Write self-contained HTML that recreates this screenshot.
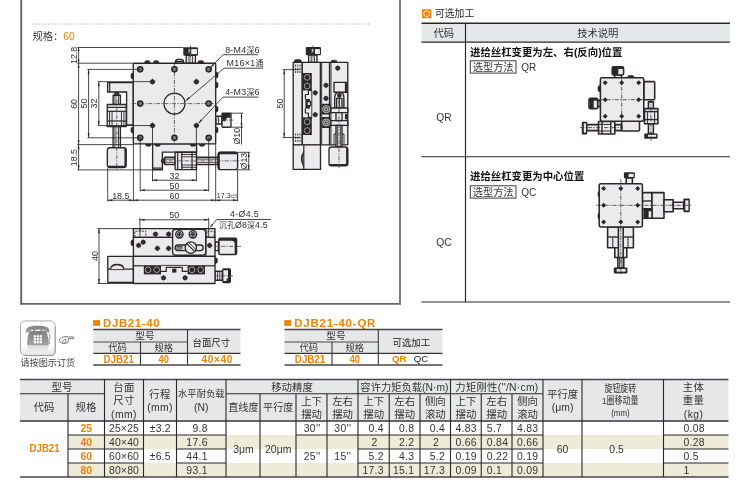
<!DOCTYPE html>
<html lang="zh-CN"><head><meta charset="utf-8"><title>DJB21</title>
<style>
html,body{margin:0;padding:0;background:#fff;}
body{width:748px;height:500px;overflow:hidden;position:relative;font-family:"Liberation Sans","Noto Sans CJK SC",sans-serif;}
svg{position:absolute;left:0;top:0;display:block;will-change:transform;}
svg text{font-family:"Liberation Sans","Noto Sans CJK SC",sans-serif;}
</style></head><body>
<svg width="748" height="500" viewBox="0 0 748 500">
<line x1="21.2" y1="0" x2="21.2" y2="304.6" stroke="#6b6465" stroke-width="1.9" />
<line x1="20.3" y1="303.9" x2="401" y2="303.9" stroke="#6b6465" stroke-width="1.6" />
<line x1="400" y1="0" x2="400" y2="304.6" stroke="#7a7374" stroke-width="1.9" />
<line x1="32" y1="24" x2="371" y2="24" stroke="#c6c6c6" stroke-width="1" stroke-dasharray="2 1.2"/>
<text x="32.5" y="39.51" font-size="10.3" text-anchor="start" fill="#383838" font-weight="normal" >规格：</text>
<text x="63.3" y="39.51" font-size="10.3" text-anchor="start" fill="#f08300" font-weight="normal" >60</text>
<rect x="422" y="9.3" width="9.3" height="8.9" fill="#f08300" />
<circle cx="426.6" cy="13.7" r="2.9" fill="none" stroke="#fff" stroke-width="0.9"/>
<text x="435" y="17.13" font-size="9.8" text-anchor="start" fill="#222" font-weight="normal" >可选加工</text>
<rect x="421.5" y="23.5" width="308.5" height="18.5" fill="#e6e7e8" />
<line x1="421.5" y1="23.3" x2="730" y2="23.3" stroke="#2b2728" stroke-width="1.4" />
<line x1="421.5" y1="42.1" x2="730" y2="42.1" stroke="#2b2728" stroke-width="1.4" />
<line x1="421.5" y1="156.8" x2="730" y2="156.8" stroke="#2b2728" stroke-width="1.1" />
<line x1="421.5" y1="302" x2="730" y2="302" stroke="#2b2728" stroke-width="1.2" />
<line x1="465.5" y1="23" x2="465.5" y2="302" stroke="#2b2728" stroke-width="1.2" />
<text x="443.7" y="36.71" font-size="10.3" text-anchor="middle" fill="#333" font-weight="normal" >代码</text>
<text x="597.8" y="36.71" font-size="10.3" text-anchor="middle" fill="#333" font-weight="normal" >技术说明</text>
<text x="443.9" y="121.21" font-size="10.3" text-anchor="middle" fill="#333" font-weight="normal" >QR</text>
<text x="443.9" y="245.71" font-size="10.3" text-anchor="middle" fill="#333" font-weight="normal" >QC</text>
<text x="470" y="55.74" font-size="10.4" text-anchor="start" fill="#111" font-weight="bold" >进给丝杠变更为左、右(反向)位置</text>
<text x="470" y="179.54" font-size="10.4" text-anchor="start" fill="#111" font-weight="bold" >进给丝杠变更为中心位置</text>
<rect x="470.3" y="60.8" width="45.7" height="12.3" fill="#fff" stroke="#2b2728" stroke-width="0.9"/>
<text x="493.2" y="70.57" font-size="10.2" text-anchor="middle" fill="#333" font-weight="normal" >选型方法</text>
<text x="521.3" y="70.5" font-size="10" text-anchor="start" fill="#333" font-weight="normal" >QR</text>
<rect x="470.3" y="185.8" width="45.7" height="12.3" fill="#fff" stroke="#2b2728" stroke-width="0.9"/>
<text x="493.2" y="195.57" font-size="10.2" text-anchor="middle" fill="#333" font-weight="normal" >选型方法</text>
<text x="521.3" y="195.5" font-size="10" text-anchor="start" fill="#333" font-weight="normal" >QC</text>
<defs><linearGradient id="pg" x1="0" y1="0" x2="0" y2="1"><stop offset="0" stop-color="#fff"/><stop offset="0.72" stop-color="#fff"/><stop offset="1" stop-color="#e2e2e2"/></linearGradient><linearGradient id="pr" x1="0" y1="0" x2="0" y2="1"><stop offset="0" stop-color="#c8c8c8" stop-opacity="0.75"/><stop offset="1" stop-color="#e4e4e4" stop-opacity="0"/></linearGradient><linearGradient id="ph" x1="0" y1="0" x2="0" y2="1"><stop offset="0" stop-color="#808080"/><stop offset="1" stop-color="#a2a2a2"/></linearGradient></defs>
<rect x="20.5" y="320.9" width="34.6" height="34.6" rx="4.6" fill="url(#pg)" stroke="#a8a8a8" stroke-width="1"/>
<path d="M55.3 326 v25 q0 4.6 -4.6 4.6 h-25" fill="none" stroke="#8f8f8f" stroke-width="0.7"/>
<path d="M25.8 332.6 C25.4 327 30 325.7 37.7 325.7 C45.4 325.7 50 327 49.6 332.6 L45.2 332.6 C45.2 330.3 44.2 329.7 42.2 329.7 L33.2 329.7 C31.2 329.7 30.2 330.3 30.2 332.6 Z" fill="url(#ph)"/>
<path d="M31 331 L44.6 331 C47.6 332.4 48.7 338 48.7 345.4 L27.2 345.4 C27.2 338 28 332.4 31 331 Z" fill="url(#ph)"/>
<rect x="33.2" y="328.6" width="2.2" height="2.4" fill="url(#ph)"/><rect x="40.4" y="328.6" width="2.2" height="2.4" fill="url(#ph)"/>
<rect x="33.8" y="335.2" width="2.2" height="2.2" fill="#fff"/>
<rect x="36.75" y="335.2" width="2.2" height="2.2" fill="#fff"/>
<rect x="39.699999999999996" y="335.2" width="2.2" height="2.2" fill="#fff"/>
<rect x="33.8" y="338.15" width="2.2" height="2.2" fill="#fff"/>
<rect x="36.75" y="338.15" width="2.2" height="2.2" fill="#fff"/>
<rect x="39.699999999999996" y="338.15" width="2.2" height="2.2" fill="#fff"/>
<rect x="33.8" y="341.09999999999997" width="2.2" height="2.2" fill="#fff"/>
<rect x="36.75" y="341.09999999999997" width="2.2" height="2.2" fill="#fff"/>
<rect x="39.699999999999996" y="341.09999999999997" width="2.2" height="2.2" fill="#fff"/>
<path d="M48.9 333.4 q2.2 2.6 0.6 5.4 q-1.4 2.4 0.2 5.2" fill="none" stroke="#8a8a8a" stroke-width="0.9"/>
<rect x="27.6" y="346.3" width="20.8" height="6.4" fill="url(#pr)"/>
<g fill="#fff" stroke="#4a4a4a" stroke-width="0.7" stroke-linejoin="round"><path d="M66 337 h7.2 q0.9 0 0.9 0.8 q0 0.8 -0.9 0.8 h-5.4"/><path d="M67.6 337 q-2.6 -0.9 -5 0.1 q-3.4 1.2 -3.3 3.3 q0.1 2.3 3.6 3 q3 0.5 4.6 -0.9 q1.6 -1.6 0.8 -3.9"/><path d="M64.2 343.2 q1.6 -0.6 1.8 -2.2 q0.2 -1.4 -1.2 -1.6 q-1.6 0 -2 1.8" fill="none"/><path d="M62.8 341.4 q-0.8 1.4 0.4 2" fill="none"/></g>
<text x="20.4" y="366.09" font-size="9.15" text-anchor="start" fill="#444" font-weight="normal" >请按图示订货</text>
<rect x="93.1" y="320.1" width="6.9" height="5.8" fill="#f08300" />
<text x="103.1" y="327.2" font-size="11.4" text-anchor="start" fill="#f08300" font-weight="bold" textLength="56.5" lengthAdjust="spacing">DJB21-40</text>
<rect x="93.3" y="329.5" width="147.2" height="23.5" fill="#e6e7e8" />
<line x1="93.3" y1="329.6" x2="240.5" y2="329.6" stroke="#4a4647" stroke-width="1.5" />
<line x1="93.3" y1="342" x2="187.5" y2="342" stroke="#4a4647" stroke-width="1.1" />
<line x1="93.3" y1="353.4" x2="240.5" y2="353.4" stroke="#3a3637" stroke-width="1.4" />
<line x1="93.3" y1="365" x2="240.5" y2="365" stroke="#4a4647" stroke-width="1.4" />
<line x1="140.5" y1="342" x2="140.5" y2="365" stroke="#3a3637" stroke-width="1.1" />
<line x1="187.5" y1="329" x2="187.5" y2="365" stroke="#3a3637" stroke-width="1.1" />
<text x="144.9" y="339.36" font-size="9.6" text-anchor="middle" fill="#333" font-weight="normal" >型号</text>
<text x="117.5" y="350.75" font-size="9.3" text-anchor="middle" fill="#333" font-weight="normal" >代码</text>
<text x="163.7" y="350.75" font-size="9.3" text-anchor="middle" fill="#333" font-weight="normal" >规格</text>
<text x="211.3" y="345.98" font-size="9.4" text-anchor="middle" fill="#222" font-weight="normal" >台面尺寸</text>
<text x="118.7" y="362.5" font-size="10" text-anchor="middle" fill="#f08300" font-weight="bold" textLength="30.4" lengthAdjust="spacingAndGlyphs">DJB21</text>
<text x="163.7" y="362.5" font-size="10" text-anchor="middle" fill="#f08300" font-weight="bold" textLength="10.4" lengthAdjust="spacingAndGlyphs">40</text>
<text x="216.9" y="362.5" font-size="10" text-anchor="middle" fill="#f08300" font-weight="bold" textLength="31" lengthAdjust="spacing">40×40</text>
<rect x="284.3" y="320.1" width="6.9" height="5.8" fill="#f08300" />
<text x="294.3" y="327.2" font-size="11.4" text-anchor="start" fill="#f08300" font-weight="bold" textLength="81" lengthAdjust="spacing">DJB21-40-QR</text>
<rect x="284.5" y="329.5" width="158.0" height="23.5" fill="#e6e7e8" />
<line x1="284.5" y1="329.6" x2="442.5" y2="329.6" stroke="#4a4647" stroke-width="1.5" />
<line x1="284.5" y1="342" x2="378.3" y2="342" stroke="#4a4647" stroke-width="1.1" />
<line x1="284.5" y1="353.4" x2="442.5" y2="353.4" stroke="#3a3637" stroke-width="1.4" />
<line x1="284.5" y1="365" x2="442.5" y2="365" stroke="#4a4647" stroke-width="1.4" />
<line x1="332" y1="342" x2="332" y2="365" stroke="#3a3637" stroke-width="1.1" />
<line x1="378.3" y1="329" x2="378.3" y2="365" stroke="#3a3637" stroke-width="1.1" />
<text x="335.9" y="339.36" font-size="9.6" text-anchor="middle" fill="#333" font-weight="normal" >型号</text>
<text x="308.85" y="350.75" font-size="9.3" text-anchor="middle" fill="#333" font-weight="normal" >代码</text>
<text x="354.84999999999997" y="350.75" font-size="9.3" text-anchor="middle" fill="#333" font-weight="normal" >规格</text>
<text x="411.3" y="345.98" font-size="9.4" text-anchor="middle" fill="#222" font-weight="normal" >可选加工</text>
<text x="310.05" y="362.5" font-size="10" text-anchor="middle" fill="#f08300" font-weight="bold" textLength="30.4" lengthAdjust="spacingAndGlyphs">DJB21</text>
<text x="354.84999999999997" y="362.5" font-size="10" text-anchor="middle" fill="#f08300" font-weight="bold" textLength="10.4" lengthAdjust="spacingAndGlyphs">40</text>
<text x="392" y="362.36" font-size="9.6" text-anchor="start" fill="#f08300" font-weight="bold" >QR</text>
<text x="413.8" y="362.36" font-size="9.6" text-anchor="start" fill="#222" font-weight="normal" >QC</text>
<rect x="20" y="380" width="708.5" height="41" fill="#e6e7e8" />
<rect x="68" y="435" width="660.5" height="14" fill="#eeebd9" />
<rect x="68" y="463" width="660.5" height="14" fill="#eeebd9" />
<line x1="20" y1="379.6" x2="728.5" y2="379.6" stroke="#4a4647" stroke-width="1.5" />
<line x1="20" y1="421" x2="728.5" y2="421" stroke="#3a3637" stroke-width="1.5" />
<line x1="20" y1="477" x2="728.5" y2="477" stroke="#4a4647" stroke-width="1.5" />
<line x1="20" y1="393.8" x2="104.5" y2="393.8" stroke="#2b2728" stroke-width="1.1" />
<line x1="226" y1="393.8" x2="543" y2="393.8" stroke="#2b2728" stroke-width="1.1" />
<line x1="68" y1="393.8" x2="68" y2="477" stroke="#2b2728" stroke-width="1.1" />
<line x1="104.5" y1="379.6" x2="104.5" y2="477" stroke="#2b2728" stroke-width="1.1" />
<line x1="143.5" y1="379.6" x2="143.5" y2="477" stroke="#2b2728" stroke-width="1.1" />
<line x1="176.5" y1="379.6" x2="176.5" y2="477" stroke="#2b2728" stroke-width="1.1" />
<line x1="226" y1="379.6" x2="226" y2="477" stroke="#2b2728" stroke-width="1.1" />
<line x1="260" y1="393.8" x2="260" y2="477" stroke="#2b2728" stroke-width="1.1" />
<line x1="296" y1="393.8" x2="296" y2="477" stroke="#2b2728" stroke-width="1.1" />
<line x1="327" y1="393.8" x2="327" y2="477" stroke="#2b2728" stroke-width="1.1" />
<line x1="358" y1="379.6" x2="358" y2="477" stroke="#2b2728" stroke-width="1.1" />
<line x1="389.25" y1="393.8" x2="389.25" y2="477" stroke="#2b2728" stroke-width="1.1" />
<line x1="420" y1="393.8" x2="420" y2="477" stroke="#2b2728" stroke-width="1.1" />
<line x1="450.5" y1="379.6" x2="450.5" y2="477" stroke="#2b2728" stroke-width="1.1" />
<line x1="481.25" y1="393.8" x2="481.25" y2="477" stroke="#2b2728" stroke-width="1.1" />
<line x1="512" y1="393.8" x2="512" y2="477" stroke="#2b2728" stroke-width="1.1" />
<line x1="543" y1="379.6" x2="543" y2="477" stroke="#2b2728" stroke-width="1.1" />
<line x1="582" y1="379.6" x2="582" y2="477" stroke="#2b2728" stroke-width="1.1" />
<line x1="663.5" y1="379.6" x2="663.5" y2="477" stroke="#2b2728" stroke-width="1.1" />
<line x1="68" y1="435" x2="143.5" y2="435" stroke="#2b2728" stroke-width="1.1" />
<line x1="176.5" y1="435" x2="226" y2="435" stroke="#2b2728" stroke-width="1.1" />
<line x1="358" y1="435" x2="543" y2="435" stroke="#2b2728" stroke-width="1.1" />
<line x1="663.5" y1="435" x2="728.5" y2="435" stroke="#2b2728" stroke-width="1.1" />
<line x1="68" y1="449" x2="143.5" y2="449" stroke="#2b2728" stroke-width="1.1" />
<line x1="176.5" y1="449" x2="226" y2="449" stroke="#2b2728" stroke-width="1.1" />
<line x1="358" y1="449" x2="543" y2="449" stroke="#2b2728" stroke-width="1.1" />
<line x1="663.5" y1="449" x2="728.5" y2="449" stroke="#2b2728" stroke-width="1.1" />
<line x1="68" y1="463" x2="143.5" y2="463" stroke="#2b2728" stroke-width="1.1" />
<line x1="176.5" y1="463" x2="226" y2="463" stroke="#2b2728" stroke-width="1.1" />
<line x1="358" y1="463" x2="543" y2="463" stroke="#2b2728" stroke-width="1.1" />
<line x1="663.5" y1="463" x2="728.5" y2="463" stroke="#2b2728" stroke-width="1.1" />
<line x1="143.5" y1="435" x2="176.5" y2="435" stroke="#2b2728" stroke-width="1.1" />
<line x1="296" y1="435" x2="358" y2="435" stroke="#2b2728" stroke-width="1.1" />
<text x="62" y="390.54" font-size="10.4" text-anchor="middle" fill="#333" font-weight="normal" >型号</text>
<text x="44" y="411.24" font-size="10.4" text-anchor="middle" fill="#333" font-weight="normal" >代码</text>
<text x="86" y="411.24" font-size="10.4" text-anchor="middle" fill="#333" font-weight="normal" >规格</text>
<text x="124" y="390.74" font-size="10.4" text-anchor="middle" fill="#333" font-weight="normal" letter-spacing="0.4">台面</text>
<text x="124" y="404.34" font-size="10.4" text-anchor="middle" fill="#333" font-weight="normal" letter-spacing="0.4">尺寸</text>
<text x="124" y="417.64" font-size="10.4" text-anchor="middle" fill="#333" font-weight="normal" letter-spacing="0.4">(mm)</text>
<text x="160" y="397.64" font-size="10.4" text-anchor="middle" fill="#333" font-weight="normal" letter-spacing="0.3">行程</text>
<text x="160" y="411.34" font-size="10.4" text-anchor="middle" fill="#333" font-weight="normal" letter-spacing="0.3">(mm)</text>
<text x="201.3" y="397.25" font-size="9.3" text-anchor="middle" fill="#333" font-weight="normal" >水平耐负载</text>
<text x="201.3" y="411.34" font-size="10.4" text-anchor="middle" fill="#333" font-weight="normal" >(N)</text>
<text x="292" y="390.54" font-size="10.4" text-anchor="middle" fill="#333" font-weight="normal" >移动精度</text>
<text x="243.4" y="411.14" font-size="10.1" text-anchor="middle" fill="#333" font-weight="normal" >直线度</text>
<text x="278.2" y="411.14" font-size="10.1" text-anchor="middle" fill="#333" font-weight="normal" >平行度</text>
<text x="311.6" y="405.04" font-size="10.4" text-anchor="middle" fill="#333" font-weight="normal" >上下</text>
<text x="311.6" y="418.04" font-size="10.4" text-anchor="middle" fill="#333" font-weight="normal" >摆动</text>
<text x="342.6" y="405.04" font-size="10.4" text-anchor="middle" fill="#333" font-weight="normal" >左右</text>
<text x="342.6" y="418.04" font-size="10.4" text-anchor="middle" fill="#333" font-weight="normal" >摆动</text>
<text x="373.7" y="405.04" font-size="10.4" text-anchor="middle" fill="#333" font-weight="normal" >上下</text>
<text x="373.7" y="418.04" font-size="10.4" text-anchor="middle" fill="#333" font-weight="normal" >摆动</text>
<text x="404.7" y="405.04" font-size="10.4" text-anchor="middle" fill="#333" font-weight="normal" >左右</text>
<text x="404.7" y="418.04" font-size="10.4" text-anchor="middle" fill="#333" font-weight="normal" >摆动</text>
<text x="435.3" y="405.04" font-size="10.4" text-anchor="middle" fill="#333" font-weight="normal" >侧向</text>
<text x="435.3" y="418.04" font-size="10.4" text-anchor="middle" fill="#333" font-weight="normal" >滚动</text>
<text x="466" y="405.04" font-size="10.4" text-anchor="middle" fill="#333" font-weight="normal" >上下</text>
<text x="466" y="418.04" font-size="10.4" text-anchor="middle" fill="#333" font-weight="normal" >摆动</text>
<text x="496.7" y="405.04" font-size="10.4" text-anchor="middle" fill="#333" font-weight="normal" >左右</text>
<text x="496.7" y="418.04" font-size="10.4" text-anchor="middle" fill="#333" font-weight="normal" >摆动</text>
<text x="527.6" y="405.04" font-size="10.4" text-anchor="middle" fill="#333" font-weight="normal" >侧向</text>
<text x="527.6" y="418.04" font-size="10.4" text-anchor="middle" fill="#333" font-weight="normal" >滚动</text>
<text x="404.4" y="390.51" font-size="10.3" text-anchor="middle" fill="#333" font-weight="normal" >容许力矩负载(N·m)</text>
<text x="496.8" y="390.51" font-size="10.3" text-anchor="middle" fill="#333" font-weight="normal" textLength="83" lengthAdjust="spacing">力矩刚性(''/N·cm)</text>
<text x="562.6" y="397.64" font-size="10.4" text-anchor="middle" fill="#333" font-weight="normal" >平行度</text>
<text x="562.6" y="411.34" font-size="10.4" text-anchor="middle" fill="#333" font-weight="normal" >(μm)</text>
<text x="620.3" y="392.13" font-size="9.8" text-anchor="middle" fill="#333" font-weight="normal" textLength="31.5" lengthAdjust="spacingAndGlyphs">旋钮旋转</text>
<text x="620.3" y="404.23" font-size="9.8" text-anchor="middle" fill="#333" font-weight="normal" textLength="36.5" lengthAdjust="spacingAndGlyphs">1圈移动量</text>
<text x="620.5" y="416.23" font-size="9.8" text-anchor="middle" fill="#333" font-weight="normal" textLength="18.6" lengthAdjust="spacingAndGlyphs">(mm)</text>
<text x="693.6" y="390.74" font-size="10.4" text-anchor="middle" fill="#333" font-weight="normal" letter-spacing="0.4">主体</text>
<text x="693.6" y="404.44" font-size="10.4" text-anchor="middle" fill="#333" font-weight="normal" letter-spacing="0.4">重量</text>
<text x="693.6" y="417.64" font-size="10.4" text-anchor="middle" fill="#333" font-weight="normal" letter-spacing="0.4">(kg)</text>
<text x="44.6" y="451.98" font-size="10.5" text-anchor="middle" fill="#f08300" font-weight="bold" textLength="30" lengthAdjust="spacingAndGlyphs">DJB21</text>
<text x="86.2" y="431.94" font-size="10.4" text-anchor="middle" fill="#f08300" font-weight="bold" >25</text>
<text x="124" y="431.94" font-size="10.4" text-anchor="middle" fill="#333" font-weight="normal" letter-spacing="0.2">25×25</text>
<text x="86.2" y="445.94" font-size="10.4" text-anchor="middle" fill="#f08300" font-weight="bold" >40</text>
<text x="124" y="445.94" font-size="10.4" text-anchor="middle" fill="#333" font-weight="normal" letter-spacing="0.2">40×40</text>
<text x="86.2" y="459.94" font-size="10.4" text-anchor="middle" fill="#f08300" font-weight="bold" >60</text>
<text x="124" y="459.94" font-size="10.4" text-anchor="middle" fill="#333" font-weight="normal" letter-spacing="0.2">60×60</text>
<text x="86.2" y="473.94" font-size="10.4" text-anchor="middle" fill="#f08300" font-weight="bold" >80</text>
<text x="124" y="473.94" font-size="10.4" text-anchor="middle" fill="#333" font-weight="normal" letter-spacing="0.2">80×80</text>
<text x="160.3" y="431.94" font-size="10.4" text-anchor="middle" fill="#333" font-weight="normal" letter-spacing="0.2">±3.2</text>
<text x="160.3" y="459.94" font-size="10.4" text-anchor="middle" fill="#333" font-weight="normal" letter-spacing="0.2">±6.5</text>
<text x="207.8" y="431.94" font-size="10.4" text-anchor="end" fill="#333" font-weight="normal" letter-spacing="0.3">9.8</text>
<text x="207.8" y="445.94" font-size="10.4" text-anchor="end" fill="#333" font-weight="normal" letter-spacing="0.3">17.6</text>
<text x="207.8" y="459.94" font-size="10.4" text-anchor="end" fill="#333" font-weight="normal" letter-spacing="0.3">44.1</text>
<text x="207.8" y="473.94" font-size="10.4" text-anchor="end" fill="#333" font-weight="normal" letter-spacing="0.3">93.1</text>
<text x="243.4" y="452.74" font-size="10.4" text-anchor="middle" fill="#333" font-weight="normal" >3μm</text>
<text x="278.2" y="452.74" font-size="10.4" text-anchor="middle" fill="#333" font-weight="normal" >20μm</text>
<text x="312.2" y="431.94" font-size="10.4" text-anchor="middle" fill="#333" font-weight="normal" letter-spacing="0.4">30''</text>
<text x="342.8" y="431.94" font-size="10.4" text-anchor="middle" fill="#333" font-weight="normal" letter-spacing="0.4">30''</text>
<text x="312.2" y="459.94" font-size="10.4" text-anchor="middle" fill="#333" font-weight="normal" letter-spacing="0.4">25''</text>
<text x="342.8" y="459.94" font-size="10.4" text-anchor="middle" fill="#333" font-weight="normal" letter-spacing="0.4">15''</text>
<text x="383.9" y="431.94" font-size="10.4" text-anchor="end" fill="#333" font-weight="normal" letter-spacing="0.3">0.4</text>
<text x="414.4" y="431.94" font-size="10.4" text-anchor="end" fill="#333" font-weight="normal" letter-spacing="0.3">0.8</text>
<text x="445.1" y="431.94" font-size="10.4" text-anchor="end" fill="#333" font-weight="normal" letter-spacing="0.3">0.4</text>
<text x="374.4" y="445.94" font-size="10.4" text-anchor="middle" fill="#333" font-weight="normal" >2</text>
<text x="414.4" y="445.94" font-size="10.4" text-anchor="end" fill="#333" font-weight="normal" letter-spacing="0.3">2.2</text>
<text x="435.8" y="445.94" font-size="10.4" text-anchor="middle" fill="#333" font-weight="normal" >2</text>
<text x="383.9" y="459.94" font-size="10.4" text-anchor="end" fill="#333" font-weight="normal" letter-spacing="0.3">5.2</text>
<text x="414.4" y="459.94" font-size="10.4" text-anchor="end" fill="#333" font-weight="normal" letter-spacing="0.3">4.3</text>
<text x="445.1" y="459.94" font-size="10.4" text-anchor="end" fill="#333" font-weight="normal" letter-spacing="0.3">5.2</text>
<text x="383.9" y="473.94" font-size="10.4" text-anchor="end" fill="#333" font-weight="normal" letter-spacing="0.3">17.3</text>
<text x="414.4" y="473.94" font-size="10.4" text-anchor="end" fill="#333" font-weight="normal" letter-spacing="0.3">15.1</text>
<text x="445.1" y="473.94" font-size="10.4" text-anchor="end" fill="#333" font-weight="normal" letter-spacing="0.3">17.3</text>
<text x="455.5" y="431.94" font-size="10.4" text-anchor="start" fill="#333" font-weight="normal" letter-spacing="0.3">4.83</text>
<text x="486.8" y="431.94" font-size="10.4" text-anchor="start" fill="#333" font-weight="normal" letter-spacing="0.3">5.7</text>
<text x="517" y="431.94" font-size="10.4" text-anchor="start" fill="#333" font-weight="normal" letter-spacing="0.3">4.83</text>
<text x="455.5" y="445.94" font-size="10.4" text-anchor="start" fill="#333" font-weight="normal" letter-spacing="0.3">0.66</text>
<text x="486.8" y="445.94" font-size="10.4" text-anchor="start" fill="#333" font-weight="normal" letter-spacing="0.3">0.84</text>
<text x="517" y="445.94" font-size="10.4" text-anchor="start" fill="#333" font-weight="normal" letter-spacing="0.3">0.66</text>
<text x="455.5" y="459.94" font-size="10.4" text-anchor="start" fill="#333" font-weight="normal" letter-spacing="0.3">0.19</text>
<text x="486.8" y="459.94" font-size="10.4" text-anchor="start" fill="#333" font-weight="normal" letter-spacing="0.3">0.22</text>
<text x="517" y="459.94" font-size="10.4" text-anchor="start" fill="#333" font-weight="normal" letter-spacing="0.3">0.19</text>
<text x="455.5" y="473.94" font-size="10.4" text-anchor="start" fill="#333" font-weight="normal" letter-spacing="0.3">0.09</text>
<text x="486.8" y="473.94" font-size="10.4" text-anchor="start" fill="#333" font-weight="normal" letter-spacing="0.3">0.1</text>
<text x="517" y="473.94" font-size="10.4" text-anchor="start" fill="#333" font-weight="normal" letter-spacing="0.3">0.09</text>
<text x="562.6" y="452.94" font-size="10.4" text-anchor="middle" fill="#333" font-weight="normal" >60</text>
<text x="616.6" y="452.94" font-size="10.4" text-anchor="middle" fill="#333" font-weight="normal" >0.5</text>
<text x="683.5" y="431.94" font-size="10.4" text-anchor="start" fill="#333" font-weight="normal" letter-spacing="0.3">0.08</text>
<text x="683.5" y="445.94" font-size="10.4" text-anchor="start" fill="#333" font-weight="normal" letter-spacing="0.3">0.28</text>
<text x="683.5" y="459.94" font-size="10.4" text-anchor="start" fill="#333" font-weight="normal" letter-spacing="0.3">0.5</text>
<text x="683.5" y="473.94" font-size="10.4" text-anchor="start" fill="#333" font-weight="normal" letter-spacing="0.3">1</text>
<style>.o{fill:#ebebed;stroke:#2b2728;stroke-width:1.35;stroke-linejoin:round}.n{fill:none;stroke:#2b2728;stroke-width:1.2;stroke-linejoin:round}.hv{fill:none;stroke:#2b2728;stroke-width:2;stroke-linecap:round}.hv2{fill:none;stroke:#2b2728;stroke-width:2.6;stroke-linecap:round}.t{fill:none;stroke:#2b2728;stroke-width:.85}.t2{fill:none;stroke:#2b2728;stroke-width:.9}.tk{fill:none;stroke:#2b2728;stroke-width:.7}.c{fill:none;stroke:#4a4647;stroke-width:.8;stroke-dasharray:4.2 1.3 1.2 1.3}.dsh{fill:none;stroke:#2b2728;stroke-width:.9;stroke-dasharray:2 1.2}.k{fill:#2b2728;stroke:none}.kb{fill:#2b2728;stroke:#2b2728;stroke-width:.6}.h4{fill:#7a7778;stroke:#2b2728;stroke-width:1.5}.h3{fill:#6a6768;stroke:#2b2728;stroke-width:1.5}.rl{fill:none;stroke:#cfcfcf;stroke-width:.7}.rl2{fill:#555;stroke:#d8d8d8;stroke-width:.8}.lf{fill:#ebebed;stroke:none}.dt{fill:#302d2e}.cj{font-size:7.9px}.mini .o{stroke-width:1.55}.mini .n{stroke-width:1.35}.mini .t2{stroke-width:1}.mini .c{stroke-width:.8;stroke:#3a3637}</style>
<path class="o" d="M107.6 82.6 L133.3 82.6 L133.3 125 L126.6 125 L126.6 92 L107.6 92 Z"/>
<line class="n" x1="109.7" y1="82.6" x2="109.7" y2="92"/>
<rect class="o" x="113.1" y="95.2" width="7.3" height="9.3" />
<line class="t" x1="115" y1="96" x2="115" y2="104.5"/>
<line class="t" x1="118.5" y1="96" x2="118.5" y2="104.5"/>
<path class="k" d="M113.95 95.6 Q113.95 91.4 116.75 91.4 Q119.55 91.4 119.55 95.6 Z"/>
<rect class="o" x="113.1" y="126.5" width="7.3" height="21.2" />
<line class="t" x1="115" y1="126.5" x2="115" y2="147.7"/>
<line class="t" x1="118.5" y1="126.5" x2="118.5" y2="147.7"/>
<rect class="o" x="107.25" y="104.5" width="19" height="22" />
<line class="n" x1="107.25" y1="107.36" x2="126.25" y2="107.36"/>
<line class="n" x1="107.25" y1="111.32" x2="126.25" y2="111.32"/>
<line class="n" x1="107.25" y1="121" x2="126.25" y2="121"/>
<line class="t2" x1="109.55" y1="111.32" x2="109.55" y2="126.5"/>
<line class="t2" x1="112.05" y1="111.32" x2="112.05" y2="126.5"/>
<line class="t2" x1="121.45" y1="111.32" x2="121.45" y2="126.5"/>
<line class="t2" x1="123.95" y1="111.32" x2="123.95" y2="126.5"/>
<rect class="o" x="107.35" y="147.7" width="18.8" height="19.8" rx="2.4" />
<line class="hv" x1="125.45" y1="149.3" x2="125.45" y2="166.1"/>
<line class="hv" x1="108.95" y1="166.8" x2="124.75" y2="166.8"/>
<line class="c" x1="116.75" y1="91" x2="116.75" y2="169.5"/>
<path class="o" d="M152.6 143.9 L152.6 169.7 L162.4 169.7 L162.4 152.1 L196.6 152.1 L196.6 143.9 Z"/>
<line class="n" x1="152.6" y1="168.1" x2="162.4" y2="168.1"/>
<rect class="o" x="164.8" y="157.2" width="10.3" height="7.4" />
<line class="t" x1="165.6" y1="159.1" x2="175.1" y2="159.1"/>
<line class="t" x1="165.6" y1="162.7" x2="175.1" y2="162.7"/>
<path class="k" d="M165.2 158.1 Q161 158.1 161 160.9 Q161 163.7 165.2 163.7 Z"/>
<rect class="o" x="196.5" y="157.2" width="21.6" height="7.4" />
<line class="t" x1="196.5" y1="159.1" x2="218.1" y2="159.1"/>
<line class="t" x1="196.5" y1="162.7" x2="218.1" y2="162.7"/>
<rect class="o" x="175.1" y="152.2" width="21.4" height="17.4" />
<line class="n" x1="177.67" y1="152.2" x2="177.67" y2="169.6"/>
<line class="n" x1="181.73" y1="152.2" x2="181.73" y2="169.6"/>
<line class="n" x1="192.01" y1="152.2" x2="192.01" y2="169.6"/>
<line class="t2" x1="181.73" y1="154.5" x2="196.5" y2="154.5"/>
<line class="t2" x1="181.73" y1="156.8" x2="196.5" y2="156.8"/>
<line class="t2" x1="181.73" y1="165" x2="196.5" y2="165"/>
<line class="t2" x1="181.73" y1="167.3" x2="196.5" y2="167.3"/>
<rect class="o" x="218.1" y="152.2" width="19.5" height="17.4" rx="2.4" />
<line class="hv" x1="218.8" y1="153.8" x2="218.8" y2="168.2"/>
<line class="hv2" x1="219.7" y1="153" x2="236.2" y2="153"/>
<line class="c" x1="160.6" y1="160.9" x2="239.6" y2="160.9"/>
<rect class="o" x="215.7" y="116.2" width="6.3" height="7.8" />
<line class="t2" x1="218.4" y1="116.2" x2="218.4" y2="124"/>
<rect class="o" x="222" y="113.2" width="9" height="14.1" rx="0.8" />
<path class="k" d="M222 113.2 h8.4 v4.6 h-3.4 l-1.6 3.4 h-3.4 Z"/>
<line class="c" x1="213" y1="120.1" x2="234" y2="120.1"/>
<rect class="o" x="186.2" y="55.4" width="9.2" height="7.8" />
<line class="t2" x1="189" y1="55.4" x2="189" y2="63.2"/>
<line class="t2" x1="192.4" y1="55.4" x2="192.4" y2="63.2"/>
<rect class="k" x="183.3" y="47.2" width="14.6" height="8.5" rx="1" />
<rect class="lf" x="188.6" y="49.1" width="8.3" height="5" />
<path class="k" d="M188.6 54.1 v-1.7 h1.1 v-3.3 h1.5 v5 Z"/>
<line class="c" x1="190.5" y1="45.5" x2="190.5" y2="66"/>
<path class="kb" d="M144.6 63.2 q0 -2.5 1.4 -2.5 h2.8 q1.4 0 1.4 2.5 Z"/>
<path class="kb" d="M153.4 63.2 q0 -2.5 1.4 -2.5 h2.8 q1.4 0 1.4 2.5 Z"/>
<path class="kb" d="M197.7 63.2 q0 -2.5 1.55 -2.5 h3.1 q1.55 0 1.55 2.5 Z"/>
<path class="o" d="M175.2 63.2 q0 -3.6 2.4 -3.9 h3.8 q2.4 0.3 2.4 3.9 Z"/>
<line class="n" x1="176" y1="61.4" x2="183" y2="61.4"/>
<path class="kb" d="M145.6 143.9 q0 2.3 1.4 2.3 h2.8 q1.4 0 1.4 -2.3 Z"/>
<path class="kb" d="M154.8 143.9 q0 2.3 1.4 2.3 h2.8 q1.4 0 1.4 -2.3 Z"/>
<path class="kb" d="M190.2 143.9 q0 2.3 1.4 2.3 h2.8 q1.4 0 1.4 -2.3 Z"/>
<path class="kb" d="M199.2 143.9 q0 2.3 1.4 2.3 h2.8 q1.4 0 1.4 -2.3 Z"/>
<path class="kb" d="M133.3 73 q-2.3 0 -2.3 1.5 v3 q0 1.5 2.3 1.5 Z"/>
<path class="kb" d="M133.3 127 q-2.3 0 -2.3 1.5 v3 q0 1.5 2.3 1.5 Z"/>
<path class="kb" d="M215.7 72 q2.3 0 2.3 1.5 v3 q0 1.5 -2.3 1.5 Z"/>
<path class="kb" d="M215.7 82 q2.3 0 2.3 1.5 v3 q0 1.5 -2.3 1.5 Z"/>
<path class="kb" d="M215.7 106 q2.3 0 2.3 1.5 v3 q0 1.5 -2.3 1.5 Z"/>
<path class="kb" d="M215.7 127 q2.3 0 2.3 1.5 v3 q0 1.5 -2.3 1.5 Z"/>
<rect class="o" x="133.3" y="63.2" width="82.4" height="80.7" rx="0.8" />
<line class="c" x1="131.8" y1="103.6" x2="213.7" y2="103.6"/>
<line class="c" x1="174.45" y1="64" x2="174.45" y2="143.1"/>
<circle class="n" cx="174.45" cy="103.6" r="10.5" stroke-width="1.8"/>
<circle class="h4" cx="140.2" cy="69.35" r="2.55" />
<circle class="h4" cx="140.2" cy="103.6" r="2.55" />
<circle class="h4" cx="140.2" cy="137.85" r="2.55" />
<circle class="h4" cx="174.45" cy="69.35" r="2.55" />
<circle class="h4" cx="174.45" cy="137.85" r="2.55" />
<circle class="h4" cx="208.7" cy="69.35" r="2.55" />
<circle class="h4" cx="208.7" cy="103.6" r="2.55" />
<circle class="h4" cx="208.7" cy="137.85" r="2.55" />
<circle class="h3" cx="152.5" cy="81.65" r="1.75" />
<line class="tk" x1="149.5" y1="81.65" x2="155.5" y2="81.65"/>
<line class="tk" x1="152.5" y1="78.65" x2="152.5" y2="84.65"/>
<circle class="h3" cx="152.5" cy="125.55" r="1.75" />
<line class="tk" x1="149.5" y1="125.55" x2="155.5" y2="125.55"/>
<line class="tk" x1="152.5" y1="122.55" x2="152.5" y2="128.55"/>
<circle class="h3" cx="196.4" cy="81.65" r="1.75" />
<line class="tk" x1="193.4" y1="81.65" x2="199.4" y2="81.65"/>
<line class="tk" x1="196.4" y1="78.65" x2="196.4" y2="84.65"/>
<circle class="h3" cx="196.4" cy="125.55" r="1.75" />
<line class="tk" x1="193.4" y1="125.55" x2="199.4" y2="125.55"/>
<line class="tk" x1="196.4" y1="122.55" x2="196.4" y2="128.55"/>
<line class="t" x1="77.4" y1="47.5" x2="183.5" y2="47.5"/>
<line class="t" x1="77.4" y1="63.2" x2="133.3" y2="63.2"/>
<line class="t" x1="78.6" y1="47.5" x2="78.6" y2="63.2"/>
<path class="k" d="M78.6 47.5 L79.55 51.1 L77.65 51.1 Z"/>
<path class="k" d="M78.6 63.2 L77.65 59.6 L79.55 59.6 Z"/>
<text class="dt" x="77.3" y="55.4" font-size="8.9" text-anchor="middle" transform="rotate(-90 77.3 55.4)" >12.8</text>
<line class="t" x1="77.4" y1="144.6" x2="133.3" y2="144.6"/>
<line class="t" x1="77.4" y1="169.9" x2="153" y2="169.9"/>
<line class="t" x1="78.6" y1="63.2" x2="78.6" y2="144.6"/>
<path class="k" d="M78.6 63.2 L79.55 67.8 L77.65 67.8 Z"/>
<path class="k" d="M78.6 144.6 L77.65 140 L79.55 140 Z"/>
<text class="dt" x="77.3" y="103.9" font-size="8.9" text-anchor="middle" transform="rotate(-90 77.3 103.9)" >60</text>
<line class="t" x1="78.6" y1="144.6" x2="78.6" y2="169.9"/>
<path class="k" d="M78.6 144.6 L79.55 149.2 L77.65 149.2 Z"/>
<path class="k" d="M78.6 169.9 L77.65 165.3 L79.55 165.3 Z"/>
<text class="dt" x="77.3" y="157.6" font-size="8.9" text-anchor="middle" transform="rotate(-90 77.3 157.6)" >18.5</text>
<line class="t" x1="87.4" y1="69.4" x2="140.2" y2="69.4"/>
<line class="t" x1="87.4" y1="137.8" x2="140.2" y2="137.8"/>
<line class="t" x1="88.6" y1="69.4" x2="88.6" y2="137.8"/>
<path class="k" d="M88.6 69.4 L89.55 74 L87.65 74 Z"/>
<path class="k" d="M88.6 137.8 L87.65 133.2 L89.55 133.2 Z"/>
<text class="dt" x="87.3" y="103.6" font-size="8.9" text-anchor="middle" transform="rotate(-90 87.3 103.6)" >50</text>
<line class="t" x1="97.6" y1="81.65" x2="152.5" y2="81.65"/>
<line class="t" x1="97.6" y1="125.55" x2="152.5" y2="125.55"/>
<line class="t" x1="98.8" y1="81.65" x2="98.8" y2="125.55"/>
<path class="k" d="M98.8 81.65 L99.75 86.25 L97.85 86.25 Z"/>
<path class="k" d="M98.8 125.55 L97.85 120.95 L99.75 120.95 Z"/>
<text class="dt" x="97.5" y="103.6" font-size="8.9" text-anchor="middle" transform="rotate(-90 97.5 103.6)" >32</text>
<line class="t" x1="107.7" y1="168" x2="107.7" y2="201.6"/>
<line class="t" x1="133.4" y1="144" x2="133.4" y2="201.6"/>
<line class="t" x1="140.2" y1="137.8" x2="140.2" y2="191.4"/>
<line class="t" x1="152.5" y1="125.5" x2="152.5" y2="181.4"/>
<line class="t" x1="196.4" y1="125.5" x2="196.4" y2="181.4"/>
<line class="t" x1="208.7" y1="137.8" x2="208.7" y2="191.4"/>
<line class="t" x1="215.7" y1="144" x2="215.7" y2="201.6"/>
<line class="t" x1="237.6" y1="169.5" x2="237.6" y2="201.6"/>
<line class="t" x1="152.5" y1="180.2" x2="196.4" y2="180.2"/>
<path class="k" d="M152.5 180.2 L157.1 179.25 L157.1 181.15 Z"/>
<path class="k" d="M196.4 180.2 L191.8 181.15 L191.8 179.25 Z"/>
<text class="dt" x="174.45" y="178.8" font-size="8.9" text-anchor="middle" >32</text>
<line class="t" x1="140.2" y1="190.2" x2="208.7" y2="190.2"/>
<path class="k" d="M140.2 190.2 L144.8 189.25 L144.8 191.15 Z"/>
<path class="k" d="M208.7 190.2 L204.1 191.15 L204.1 189.25 Z"/>
<text class="dt" x="174.45" y="188.8" font-size="8.9" text-anchor="middle" >50</text>
<line class="t" x1="133.4" y1="200.2" x2="215.7" y2="200.2"/>
<path class="k" d="M133.4 200.2 L138 199.25 L138 201.15 Z"/>
<path class="k" d="M215.7 200.2 L211.1 201.15 L211.1 199.25 Z"/>
<text class="dt" x="174.55" y="198.8" font-size="8.9" text-anchor="middle" >60</text>
<line class="t" x1="107.7" y1="200.2" x2="133.4" y2="200.2"/>
<path class="k" d="M107.7 200.2 L112.3 199.25 L112.3 201.15 Z"/>
<path class="k" d="M133.4 200.2 L128.8 201.15 L128.8 199.25 Z"/>
<text class="dt" x="120.8" y="198.8" font-size="8.9" text-anchor="middle" >18.5</text>
<line class="t" x1="215.7" y1="200.2" x2="237.6" y2="200.2"/>
<path class="k" d="M215.7 200.2 L220.3 199.25 L220.3 201.15 Z"/>
<path class="k" d="M237.6 200.2 L233 201.15 L233 199.25 Z"/>
<text class="dt" x="216.8" y="198" font-size="7.6" textLength="14" lengthAdjust="spacingAndGlyphs">17.3</text>
<text class="dt" x="231" y="198" font-size="4.6" textLength="6" lengthAdjust="spacingAndGlyphs">±6.5</text>
<line class="t" x1="231" y1="113.2" x2="243" y2="113.2"/>
<line class="t" x1="231" y1="127.2" x2="243" y2="127.2"/>
<line class="t" x1="241.5" y1="113.2" x2="241.5" y2="144.6"/>
<path class="k" d="M241.5 113.2 L242.45 117.4 L240.55 117.4 Z"/>
<path class="k" d="M241.5 127.2 L240.55 123 L242.45 123 Z"/>
<text class="dt" x="240" y="136.2" font-size="8.9" text-anchor="middle" transform="rotate(-90 240 136.2)" >Ø10</text>
<line class="t" x1="237.6" y1="152.3" x2="250.2" y2="152.3"/>
<line class="t" x1="237.6" y1="169.8" x2="250.2" y2="169.8"/>
<line class="t" x1="248.7" y1="152.3" x2="248.7" y2="169.8"/>
<path class="k" d="M248.7 152.3 L249.65 156.9 L247.75 156.9 Z"/>
<path class="k" d="M248.7 169.8 L247.75 165.2 L249.65 165.2 Z"/>
<text class="dt" x="246.6" y="161.1" font-size="8.9" text-anchor="middle" transform="rotate(-90 246.6 161.1)" >Ø13</text>
<line class="t" x1="223" y1="54.7" x2="258.2" y2="54.7"/>
<line class="t" x1="223" y1="54.7" x2="210.3" y2="67.8"/>
<path class="k" d="M210.3 67.8 L212.71 64.01 L214 65.26 Z"/>
<text class="dt" x="225.2" y="52.7" font-size="8.9" text-anchor="start" letter-spacing="0.25">8-M4<tspan class="cj">深</tspan>6</text>
<line class="t" x1="224" y1="68.2" x2="263" y2="68.2"/>
<line class="t" x1="224" y1="68.2" x2="185.6" y2="101"/>
<path class="k" d="M185.6 101 L188.57 97.1 L189.88 98.61 Z"/>
<text class="dt" x="226.6" y="66.3" font-size="8.9" text-anchor="start" letter-spacing="0.3">M16×1<tspan class="cj">通</tspan></text>
<line class="t" x1="223" y1="97.1" x2="258.4" y2="97.1"/>
<line class="t" x1="223" y1="97.1" x2="198.4" y2="123.4"/>
<path class="k" d="M198.4 123.4 L200.74 119.57 L202.06 120.8 Z"/>
<text class="dt" x="225.2" y="95.1" font-size="8.9" text-anchor="start" letter-spacing="0.25">4-M3<tspan class="cj">深</tspan>6</text>
<rect class="o" x="308.6" y="55" width="8.4" height="7.4" />
<line class="t2" x1="311.2" y1="55" x2="311.2" y2="62.4"/>
<line class="t2" x1="314.4" y1="55" x2="314.4" y2="62.4"/>
<rect class="k" x="305.8" y="47" width="15.2" height="8.3" rx="1.2" />
<rect class="lf" x="311.8" y="49.1" width="8.1" height="4.9" />
<path class="k" d="M311.8 54 v-1.7 h1.6 v-3.2 h1.6 v4.9 Z"/>
<line class="c" x1="312.8" y1="45.5" x2="312.8" y2="64"/>
<path class="kb" d="M294.1 62.4 q0 -2.8 1.85 -2.8 h3.7 q1.85 0 1.85 2.8 Z"/>
<path class="kb" d="M331 62.4 q0 -2.2 1.5 -2.2 h3 q1.5 0 1.5 2.2 Z"/>
<rect class="o" x="293.2" y="62.4" width="9.1" height="82.4" />
<rect class="o" x="302.3" y="62.4" width="18.2" height="82.4" />
<rect class="o" x="320.5" y="62.4" width="9.1" height="82.4" />
<rect class="o" x="329.6" y="62.4" width="18.2" height="82.4" />
<line class="t2" x1="321.7" y1="62.4" x2="321.7" y2="144.8"/>
<line class="t2" x1="331" y1="62.4" x2="331" y2="144.8"/>
<path class="dsh" d="M295.6 64.6 v9 M300 64.6 v9 M297.8 64.6 v9"/>
<path class="dsh" d="M295.6 133.5 v9 M300 133.5 v9 M297.8 133.5 v9"/>
<rect class="k" x="302.6" y="73" width="9.2" height="17.4" />
<circle class="rl" cx="307.2" cy="77.35" r="2.87" />
<circle class="rl" cx="307.2" cy="86.05" r="2.87" />
<rect class="k" x="302.6" y="117.4" width="9.2" height="17.6" />
<circle class="rl" cx="307.2" cy="121.8" r="2.9" />
<circle class="rl" cx="307.2" cy="130.6" r="2.9" />
<path class="n" d="M311.8 90.4 L308.4 90.4 L308.4 94.5 L305.4 94.5 L305.4 99"/>
<path class="n" d="M311.8 117.4 L308.4 117.4 L308.4 113 L305.4 113 L305.4 108.6"/>
<rect class="k" x="305.4" y="99" width="4.6" height="9.6" />
<rect class="o" x="307" y="101.6" width="3.6" height="4" />
<line class="t2" x1="311.8" y1="90.4" x2="311.8" y2="117.4"/>
<circle class="h3" cx="315.3" cy="92.8" r="1.66" />
<line class="tk" x1="312.45" y1="92.8" x2="318.15" y2="92.8"/>
<line class="tk" x1="315.3" y1="89.95" x2="315.3" y2="95.65"/>
<circle class="h3" cx="315.3" cy="114.7" r="1.66" />
<line class="tk" x1="312.45" y1="114.7" x2="318.15" y2="114.7"/>
<line class="tk" x1="315.3" y1="111.85" x2="315.3" y2="117.55"/>
<circle class="h3" cx="326" cy="85.3" r="1.66" />
<line class="tk" x1="323.15" y1="85.3" x2="328.85" y2="85.3"/>
<line class="tk" x1="326" y1="82.45" x2="326" y2="88.15"/>
<circle class="h3" cx="326" cy="98.4" r="1.66" />
<line class="tk" x1="323.15" y1="98.4" x2="328.85" y2="98.4"/>
<line class="tk" x1="326" y1="95.55" x2="326" y2="101.25"/>
<circle class="h3" cx="337.7" cy="68.2" r="1.66" />
<line class="tk" x1="334.85" y1="68.2" x2="340.55" y2="68.2"/>
<line class="tk" x1="337.7" y1="65.35" x2="337.7" y2="71.05"/>
<rect class="k" x="321.8" y="103.8" width="8.8" height="10.8" rx="0.6" />
<circle class="rl2" cx="326.2" cy="109.2" r="3.6" />
<circle class="rl2" cx="326.2" cy="109.2" r="1.7" />
<rect class="k" x="321.8" y="117.1" width="8.8" height="10.8" rx="0.6" />
<circle class="rl2" cx="326.2" cy="122.5" r="3.6" />
<circle class="rl2" cx="326.2" cy="122.5" r="1.7" />
<rect class="o" x="334" y="82.4" width="12.6" height="9.8" />
<line class="hv" x1="345.9" y1="83" x2="345.9" y2="91.6"/>
<path class="o" d="M334.7 112 v-14.2 q0 -5.4 4.6 -5.4 q4.6 0 4.6 5.4 v14.2"/>
<circle class="k" cx="339.3" cy="95.4" r="2.3" />
<rect class="o" x="336.6" y="98.4" width="5.4" height="9.6" />
<line class="n" x1="339.3" y1="98.4" x2="339.3" y2="108"/>
<rect class="o" x="331" y="108" width="16.8" height="4.6" />
<rect class="o" x="331" y="120.6" width="16.8" height="4.8" />
<rect class="o" x="336" y="112.6" width="6" height="8" />
<rect class="k" x="345" y="114" width="2.8" height="5.4" />
<rect class="o" x="336" y="125.4" width="6" height="21.6" />
<line class="t" x1="337.6" y1="125.4" x2="337.6" y2="147"/>
<line class="t" x1="340.4" y1="125.4" x2="340.4" y2="147"/>
<line class="n" x1="334" y1="134" x2="336" y2="134"/>
<line class="n" x1="342" y1="134" x2="344" y2="134"/>
<line class="t2" x1="334" y1="134" x2="334" y2="144.8"/>
<line class="t2" x1="344" y1="134" x2="344" y2="144.8"/>
<rect class="o" x="329" y="147" width="18.8" height="18.8" rx="2.6" />
<line class="hv" x1="347.1" y1="148.6" x2="347.1" y2="164.4"/>
<line class="hv" x1="330.6" y1="165.1" x2="346.4" y2="165.1"/>
<line class="c" x1="339" y1="92" x2="339" y2="168"/>
<rect class="o" x="293.2" y="144.8" width="27.3" height="24.6" />
<line class="n" x1="303.8" y1="144.8" x2="303.8" y2="169.4"/>
<path class="n" d="M303.8 153 q-5 4.5 0 13"/>
<path class="t2" d="M303.8 151 q-3 7 0 16.5"/>
<line class="t" x1="282.6" y1="69.7" x2="300" y2="69.7"/>
<line class="t" x1="282.6" y1="137.5" x2="300" y2="137.5"/>
<line class="t" x1="284.2" y1="69.7" x2="284.2" y2="137.5"/>
<path class="k" d="M284.2 69.7 L285.15 74.3 L283.25 74.3 Z"/>
<path class="k" d="M284.2 137.5 L283.25 132.9 L285.15 132.9 Z"/>
<text class="dt" x="282.9" y="103.6" font-size="8.9" text-anchor="middle" transform="rotate(-90 282.9 103.6)" >50</text>
<rect class="o" x="107.8" y="256.4" width="25.6" height="25.9" />
<path class="n" d="M107.8 269.2 h2.6 q0.6 -4.8 6.8 -4.8 q6.2 0 6.8 4.8 h9.4"/>
<path class="t2" d="M110.4 269.6 h13.6"/>
<path class="t2" d="M111.6 267.6 q1 -2.6 5.6 -2.8 q4.6 0.2 5.6 2.8"/>
<rect class="o" x="215" y="242" width="3.4" height="8.6" />
<rect class="k" x="218.1" y="237.6" width="19.2" height="17.7" rx="2.2" />
<path class="lf" d="M219.7 240.8 h12 q2.8 0.2 3 3 v9.9 h-15 Z"/>
<line class="c" x1="213" y1="246.4" x2="241" y2="246.4"/>
<rect class="o" x="215" y="271.2" width="7.2" height="9" />
<line class="t2" x1="217.6" y1="271.2" x2="217.6" y2="280.2"/>
<line class="t2" x1="219.8" y1="271.2" x2="219.8" y2="280.2"/>
<rect class="k" x="222.1" y="268.3" width="8.9" height="14.9" rx="1.6" />
<path class="lf" d="M223.4 270.2 h4.6 v8.2 h-1.4 v2.6 h-3.2 Z"/>
<line class="c" x1="213" y1="275.8" x2="233" y2="275.8"/>
<path class="kb" d="M215 257.8 q2.4 0 2.4 1.4 v2.8 q0 1.4 -2.4 1.4 Z"/>
<path class="kb" d="M133.4 239.8 q-2.4 0 -2.4 1.5 v3 q0 1.5 2.4 1.5 Z"/>
<rect class="o" x="133.4" y="228.6" width="81.6" height="8.8" />
<rect class="o" x="133.4" y="237.4" width="81.6" height="19" />
<rect class="o" x="133.4" y="256.4" width="81.6" height="27.1" />
<line class="n" x1="205.8" y1="228.6" x2="205.8" y2="256.4"/>
<path class="dsh" d="M134.8 237 v-5.8 h11 v5.8"/>
<line class="t" x1="139.9" y1="229" x2="139.9" y2="237"/>
<path class="dsh" d="M206.8 237 v-5.8 h7.4 v5.8"/>
<line class="t" x1="208.7" y1="229" x2="208.7" y2="237"/>
<path class="dsh" d="M200.6 231 v6.5 M202.2 231 v6.5"/>
<circle class="h3" cx="155.5" cy="234.2" r="1.66" />
<line class="tk" x1="152.65" y1="234.2" x2="158.35" y2="234.2"/>
<line class="tk" x1="155.5" y1="231.35" x2="155.5" y2="237.05"/>
<circle class="h3" cx="168.6" cy="234.2" r="1.66" />
<line class="tk" x1="165.75" y1="234.2" x2="171.45" y2="234.2"/>
<line class="tk" x1="168.6" y1="231.35" x2="168.6" y2="237.05"/>
<circle class="h3" cx="138.6" cy="245.4" r="1.66" />
<line class="tk" x1="135.75" y1="245.4" x2="141.45" y2="245.4"/>
<line class="tk" x1="138.6" y1="242.55" x2="138.6" y2="248.25"/>
<circle class="h3" cx="143.2" cy="242.2" r="1.66" />
<line class="tk" x1="140.35" y1="242.2" x2="146.05" y2="242.2"/>
<line class="tk" x1="143.2" y1="239.35" x2="143.2" y2="245.05"/>
<circle class="h3" cx="157.4" cy="248.4" r="1.66" />
<line class="tk" x1="154.55" y1="248.4" x2="160.25" y2="248.4"/>
<line class="tk" x1="157.4" y1="245.55" x2="157.4" y2="251.25"/>
<circle class="h3" cx="168.6" cy="248.4" r="1.66" />
<line class="tk" x1="165.75" y1="248.4" x2="171.45" y2="248.4"/>
<line class="tk" x1="168.6" y1="245.55" x2="168.6" y2="251.25"/>
<circle class="h3" cx="209.6" cy="245.5" r="1.66" />
<line class="tk" x1="206.75" y1="245.5" x2="212.45" y2="245.5"/>
<line class="tk" x1="209.6" y1="242.65" x2="209.6" y2="248.35"/>
<circle class="h3" cx="163.5" cy="277.9" r="1.66" />
<line class="tk" x1="160.65" y1="277.9" x2="166.35" y2="277.9"/>
<line class="tk" x1="163.5" y1="275.05" x2="163.5" y2="280.75"/>
<circle class="h3" cx="185.1" cy="277.9" r="1.66" />
<line class="tk" x1="182.25" y1="277.9" x2="187.95" y2="277.9"/>
<line class="tk" x1="185.1" y1="275.05" x2="185.1" y2="280.75"/>
<rect class="o" x="172.6" y="229.2" width="33.1" height="26" rx="3.2" />
<circle class="o" cx="179.4" cy="234.3" r="3.7" stroke-width="1.3"/>
<circle class="t" cx="179.4" cy="234.3" r="2.2" />
<line class="n" x1="177.4" y1="234.3" x2="181.4" y2="234.3"/>
<line class="n" x1="179.4" y1="232.3" x2="179.4" y2="236.3"/>
<circle class="o" cx="192.9" cy="234.3" r="3.7" stroke-width="1.3"/>
<circle class="t" cx="192.9" cy="234.3" r="2.2" />
<line class="n" x1="190.9" y1="234.3" x2="194.9" y2="234.3"/>
<line class="n" x1="192.9" y1="232.3" x2="192.9" y2="236.3"/>
<rect class="o" x="175.2" y="245" width="28" height="5.6" rx="2.8" />
<rect class="k" x="176.6" y="246.1" width="6" height="3.5" rx="0.8" />
<circle class="rl" cx="178.3" cy="247.85" r="1" />
<circle class="rl" cx="180.9" cy="247.85" r="1" />
<circle class="o" cx="190.8" cy="247.6" r="5.7" stroke-width="1.5" fill="#fff"/>
<line class="n" x1="187" y1="243.9" x2="194.6" y2="251.4"/>
<line class="t2" x1="188.9" y1="242.6" x2="196" y2="249.6"/>
<rect class="k" x="143.8" y="265.2" width="17.2" height="9.2" />
<circle class="rl" cx="148.1" cy="269.8" r="2.84" />
<circle class="rl" cx="156.7" cy="269.8" r="2.84" />
<rect class="k" x="187.6" y="265.2" width="17.4" height="9.2" />
<circle class="rl" cx="191.95" cy="269.8" r="2.87" />
<circle class="rl" cx="200.65" cy="269.8" r="2.87" />
<path class="n" d="M133.4 265.8 L143.8 265.8"/>
<path class="n" d="M161 271.4 L166.3 271.4 L166.3 267.3 L182.3 267.3 L182.3 271.4 L187.6 271.4"/>
<path class="n" d="M205 265.8 L215 265.8"/>
<rect class="k" x="172.2" y="268.6" width="4.2" height="4" />
<line class="t2" x1="161" y1="265.4" x2="187.6" y2="265.4"/>
<line class="t" x1="97.4" y1="228.6" x2="133.4" y2="228.6"/>
<line class="t" x1="97.4" y1="283.5" x2="215" y2="283.5"/>
<line class="t" x1="99" y1="228.6" x2="99" y2="283.5"/>
<path class="k" d="M99 228.6 L99.95 233.2 L98.05 233.2 Z"/>
<path class="k" d="M99 283.5 L98.05 278.9 L99.95 278.9 Z"/>
<text class="dt" x="97.7" y="256.05" font-size="8.9" text-anchor="middle" transform="rotate(-90 97.7 256.05)" >40</text>
<line class="t" x1="139.9" y1="217.8" x2="139.9" y2="231"/>
<line class="t" x1="208.7" y1="217.8" x2="208.7" y2="228"/>
<line class="t" x1="139.9" y1="219.8" x2="208.7" y2="219.8"/>
<path class="k" d="M139.9 219.8 L144.5 218.85 L144.5 220.75 Z"/>
<path class="k" d="M208.7 219.8 L204.1 220.75 L204.1 218.85 Z"/>
<text class="dt" x="174.3" y="218.4" font-size="8.9" text-anchor="middle" >50</text>
<line class="t" x1="216.7" y1="219.5" x2="271.2" y2="219.5"/>
<line class="t" x1="216.7" y1="219.5" x2="210.2" y2="227.3"/>
<path class="k" d="M210.2 227.3 L211.9 224.03 L213.13 225.06 Z"/>
<text class="dt" x="230" y="217.4" font-size="8.9" text-anchor="start" letter-spacing="0.3">4-Ø4.5</text>
<text class="dt" x="219" y="228.2" font-size="8.9" text-anchor="start" textLength="48.6" lengthAdjust="spacing"><tspan class="cj">沉孔</tspan>Ø8<tspan class="cj">深</tspan>4.5</text>
<g class="mini">
<rect class="o" x="614.6" y="74.8" width="6.8" height="3" />
<rect class="o" x="612.2" y="66.8" width="11.4" height="8.2" rx="1.4" />
<path class="k" d="M612.5 67.1 h10.8 v2 h-5 v5.6 h-5.8 Z"/>
<path class="kb" d="M627.6 77.8 q0 -2.4 1.6 -2.4 h3.2 q1.6 0 1.6 2.4 Z"/>
<path class="kb" d="M600.4 85.4 q-2.4 0 -2.4 1.6 v3.2 q0 1.6 2.4 1.6 Z"/>
<rect class="o" x="597.4" y="100.6" width="3" height="6" />
<rect class="o" x="589" y="98.3" width="8.7" height="10.3" rx="1.4" />
<path class="k" d="M589.3 98.6 h8 v2.2 h-3.6 v7.4 h-4.4 Z"/>
<rect class="o" x="643.8" y="81.6" width="10.9" height="18.2" rx="1" />
<rect class="o" x="648.4" y="101.8" width="5" height="6.8" />
<path class="k" d="M648.6 102.4 Q650.9 98.4 653.2 102.4 Z"/>
<rect class="o" x="648.4" y="123.8" width="5" height="9.8" />
<rect class="o" x="644.5" y="108.6" width="13.4" height="15.2" />
<line class="n" x1="644.5" y1="111.6" x2="657.9" y2="111.6"/>
<line class="n" x1="644.5" y1="119.6" x2="657.9" y2="119.6"/>
<line class="t2" x1="647.6" y1="111.6" x2="647.6" y2="123.8"/>
<line class="t2" x1="654.6" y1="111.6" x2="654.6" y2="123.8"/>
<rect class="k" x="644.2" y="133.4" width="13.4" height="5.4" rx="1" />
<rect class="lf" x="648" y="134.8" width="8.2" height="2" />
<line class="c" x1="650.9" y1="99" x2="650.9" y2="141"/>
<rect class="o" x="621.7" y="121.2" width="17.8" height="9.8" rx="1" />
<rect class="o" x="614.7" y="124.6" width="6.7" height="6" />
<path class="k" d="M620.8 124.8 Q624.4 127.6 620.8 130.4 Z"/>
<rect class="o" x="586.7" y="124.6" width="11.8" height="6" />
<rect class="o" x="598.5" y="121.5" width="16.3" height="12.5" />
<line class="n" x1="602" y1="121.5" x2="602" y2="134"/>
<line class="n" x1="610.8" y1="121.5" x2="610.8" y2="134"/>
<line class="t2" x1="598.5" y1="124.4" x2="610.8" y2="124.4"/>
<line class="t2" x1="598.5" y1="131" x2="610.8" y2="131"/>
<rect class="k" x="581.8" y="121.7" width="5.4" height="12.7" rx="1" />
<rect class="lf" x="583.8" y="123.4" width="2.2" height="9.2" />
<line class="c" x1="580" y1="127.6" x2="623" y2="127.6"/>
<rect class="o" x="600.4" y="77.8" width="43.4" height="43.4" rx="1.6" />
<line class="c" x1="621.7" y1="78.6" x2="621.7" y2="120.6"/>
<line class="c" x1="598.6" y1="99.7" x2="645.4" y2="99.7"/>
<path class="k" d="M602.7 82.7 L605.2 80.2 L607.7 82.7 L605.2 85.2 Z"/>
<path class="k" d="M602.7 99.7 L605.2 97.2 L607.7 99.7 L605.2 102.2 Z"/>
<path class="k" d="M602.7 116.3 L605.2 113.8 L607.7 116.3 L605.2 118.8 Z"/>
<path class="k" d="M619.2 82.7 L621.7 80.2 L624.2 82.7 L621.7 85.2 Z"/>
<path class="k" d="M619.2 116.3 L621.7 113.8 L624.2 116.3 L621.7 118.8 Z"/>
<path class="k" d="M636.2 82.7 L638.7 80.2 L641.2 82.7 L638.7 85.2 Z"/>
<path class="k" d="M636.2 99.7 L638.7 97.2 L641.2 99.7 L638.7 102.2 Z"/>
<path class="k" d="M636.2 116.3 L638.7 113.8 L641.2 116.3 L638.7 118.8 Z"/>
<rect class="o" x="626.2" y="178" width="6.2" height="5.7" />
<rect class="k" x="623.9" y="172.2" width="10.9" height="6.1" rx="1" />
<rect class="lf" x="628.6" y="173.8" width="5" height="3.2" />
<rect class="o" x="642.4" y="192.6" width="9.6" height="25.7" />
<rect class="o" x="652" y="192.6" width="12" height="25.7" />
<rect class="o" x="664" y="199.8" width="9.2" height="12" />
<rect class="o" x="673.2" y="202.3" width="10.6" height="6.4" />
<rect class="k" x="683.4" y="198.4" width="6.4" height="13.9" rx="1" />
<rect class="lf" x="685.3" y="200.3" width="3.1" height="10.1" />
<line class="n" x1="642.4" y1="201" x2="652" y2="201"/>
<line class="n" x1="642.4" y1="209" x2="652" y2="209"/>
<rect class="o" x="644.3" y="208.7" width="7.7" height="9.6" />
<path class="k" d="M644.6 209 h7 v2.2 h-3 v6.8 h-4 Z"/>
<rect class="o" x="607.6" y="226.9" width="25.8" height="20.9" />
<line class="n" x1="607.6" y1="237" x2="633.4" y2="237"/>
<line class="t2" x1="612.8" y1="237" x2="612.8" y2="247.8"/>
<line class="t2" x1="628" y1="237" x2="628" y2="247.8"/>
<rect class="o" x="614.8" y="247.8" width="12" height="9.6" />
<rect class="o" x="617.9" y="257.4" width="5.9" height="10.4" />
<line class="t" x1="619.6" y1="257.4" x2="619.6" y2="267.8"/>
<line class="t" x1="622" y1="257.4" x2="622" y2="267.8"/>
<rect class="k" x="613.8" y="267.5" width="13.6" height="5.9" rx="1" />
<rect class="lf" x="616.6" y="269" width="9" height="2.6" />
<rect class="o" x="618.4" y="226.9" width="4.8" height="30.5" />
<path class="kb" d="M599.2 191.5 q-1.2 0 -1.2 1.25 v2.5 q0 1.25 1.2 1.25 Z"/>
<path class="kb" d="M599.2 213.5 q-1.2 0 -1.2 1.25 v2.5 q0 1.25 1.2 1.25 Z"/>
<rect class="o" x="599.2" y="183.7" width="43.2" height="43.2" rx="1.6" />
<line class="c" x1="620.8" y1="179.4" x2="620.8" y2="274.6"/>
<line class="c" x1="596.4" y1="205.3" x2="691.6" y2="205.3"/>
<path class="k" d="M601.1 188.6 L603.6 186.1 L606.1 188.6 L603.6 191.1 Z"/>
<path class="k" d="M601.1 205.3 L603.6 202.8 L606.1 205.3 L603.6 207.8 Z"/>
<path class="k" d="M601.1 222.1 L603.6 219.6 L606.1 222.1 L603.6 224.6 Z"/>
<path class="k" d="M618.3 188.6 L620.8 186.1 L623.3 188.6 L620.8 191.1 Z"/>
<path class="k" d="M618.3 222.1 L620.8 219.6 L623.3 222.1 L620.8 224.6 Z"/>
<path class="k" d="M635.2 188.6 L637.7 186.1 L640.2 188.6 L637.7 191.1 Z"/>
<path class="k" d="M635.2 205.3 L637.7 202.8 L640.2 205.3 L637.7 207.8 Z"/>
<path class="k" d="M635.2 222.1 L637.7 219.6 L640.2 222.1 L637.7 224.6 Z"/>
</g>
</svg>
</body></html>
